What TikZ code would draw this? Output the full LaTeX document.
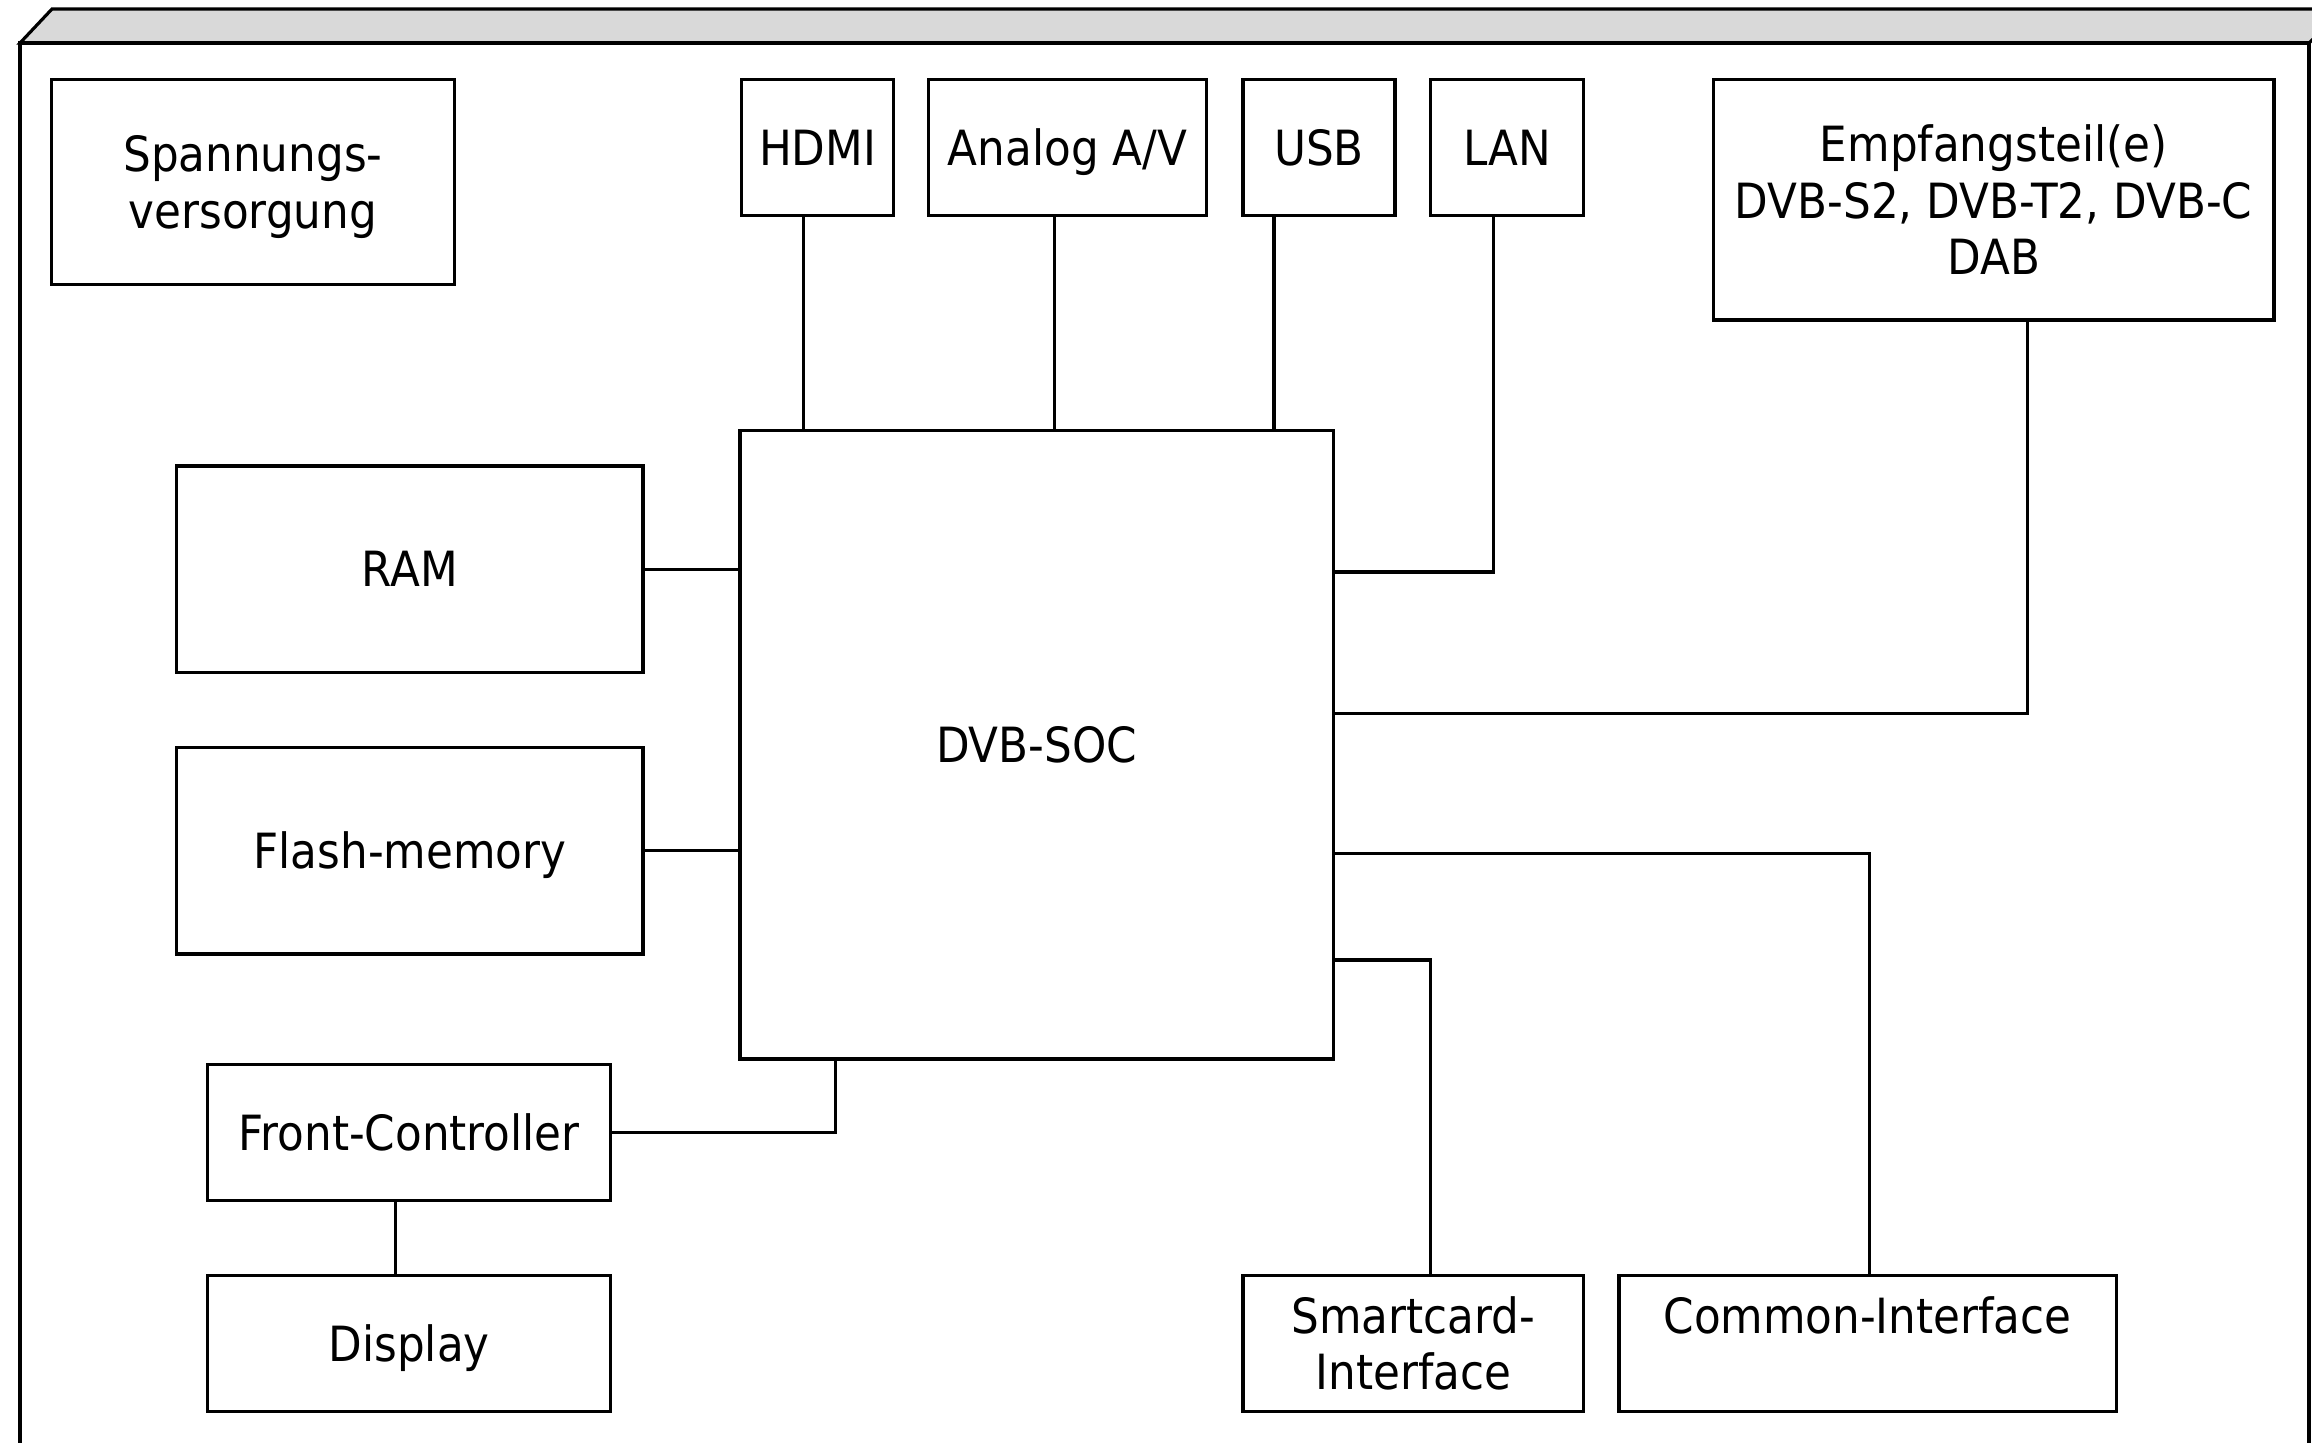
\documentclass[tikz,border=0pt]{standalone}
\usepackage{fontspec}
\setmainfont{DejaVu Sans}[FakeStretch=0.9]
\begin{document}
\begin{tikzpicture}[x=0.01cm,y=-0.01cm,line width=0.9pt,
  blk/.style={draw,inner sep=0pt,outer sep=0pt,align=center,
    font=\fontsize{13.8}{16}\selectfont},
  one/.style={text height=10.1pt,text depth=0pt},
  conn/.style={draw,line width=0.9pt}]
\useasboundingbox (0,0) rectangle (2312,1443);
\clip (0,0) rectangle (2312,1443);
% housing
\filldraw[fill=black!15] (20,43) -- (52,9) -- (2345,9) -- (2309,43) -- cycle;
\draw (20,1480) -- (20,43) -- (2309,43) -- (2309,1480);
% blocks
\node[blk,text depth=0pt,minimum width=4.025cm,minimum height=2.05cm] (psu) at (252.9,182.1) {Spannungs-\\versorgung};
\node[blk,one,minimum width=1.518cm,minimum height=1.357cm] (hdmi) at (817.6,147.5) {HDMI};
\node[blk,one,minimum width=2.772cm,minimum height=1.357cm] (analog) at (1067.5,147.5) {Analog A/V};
\node[blk,one,minimum width=1.519cm,minimum height=1.357cm] (usb) at (1319,147.5) {USB};
\node[blk,one,minimum width=1.533cm,minimum height=1.357cm] (lan) at (1507,147.5) {LAN};
\node[blk,minimum width=5.603cm,minimum height=2.404cm] (empf) at (1993.6,199.8) {Empfangsteil(e)\\DVB-S2, DVB-T2, DVB-C\\DAB};
\node[blk,one,minimum width=5.928cm,minimum height=6.281cm] (soc) at (1036.6,744.7) {DVB-SOC};
\node[blk,one,minimum width=4.66cm,minimum height=2.064cm] (ram) at (409.9,569.2) {RAM};
\node[blk,one,minimum width=4.66cm,minimum height=2.064cm] (flash) at (409.9,850.8) {Flash-memory};
\node[blk,one,minimum width=4.025cm,minimum height=1.356cm] (fc) at (409.2,1132.4) {Front-Controller};
\node[blk,one,minimum width=4.025cm,minimum height=1.357cm] (display) at (409.2,1343.3) {Display};
\node[blk,minimum width=3.406cm,minimum height=1.357cm] (smart) at (1413.3,1343.3) {Smartcard-\\Interface};
\node[blk,minimum width=4.969cm,minimum height=1.357cm] (ci) at (1867.5,1343.3) {Common-Interface\\~};
% connectors
\draw[conn] ([xshift=-0.14cm]hdmi.south) -- ([xshift=-0.14cm]hdmi.south |- soc.north);
\draw[conn] ([xshift=-0.132cm]analog.south) -- ([xshift=-0.132cm]analog.south |- soc.north);
\draw[conn] ([xshift=-0.45cm]usb.south) -- ([xshift=-0.45cm]usb.south |- soc.north);
\draw[conn] ([xshift=-0.133cm]lan.south) |- ([yshift=1.726cm]soc.east);
\draw[conn] ([xshift=0.338cm]empf.south) |- ([yshift=0.31cm]soc.east);
\draw[conn] ([yshift=-1.09cm]soc.east) -| ([xshift=0.022cm]ci.north);
\draw[conn] ([yshift=-2.152cm]soc.east) -| ([xshift=0.17cm]smart.north);
\draw[conn] (ram.east) -- (ram.east -| soc.west);
\draw[conn] (flash.east) -- (flash.east -| soc.west);
\draw[conn] (fc.east) -| ([xshift=-2.006cm]soc.south);
\draw[conn] ([xshift=-0.14cm]fc.south) -- ([xshift=-0.14cm]display.north);
\end{tikzpicture}
\end{document}
